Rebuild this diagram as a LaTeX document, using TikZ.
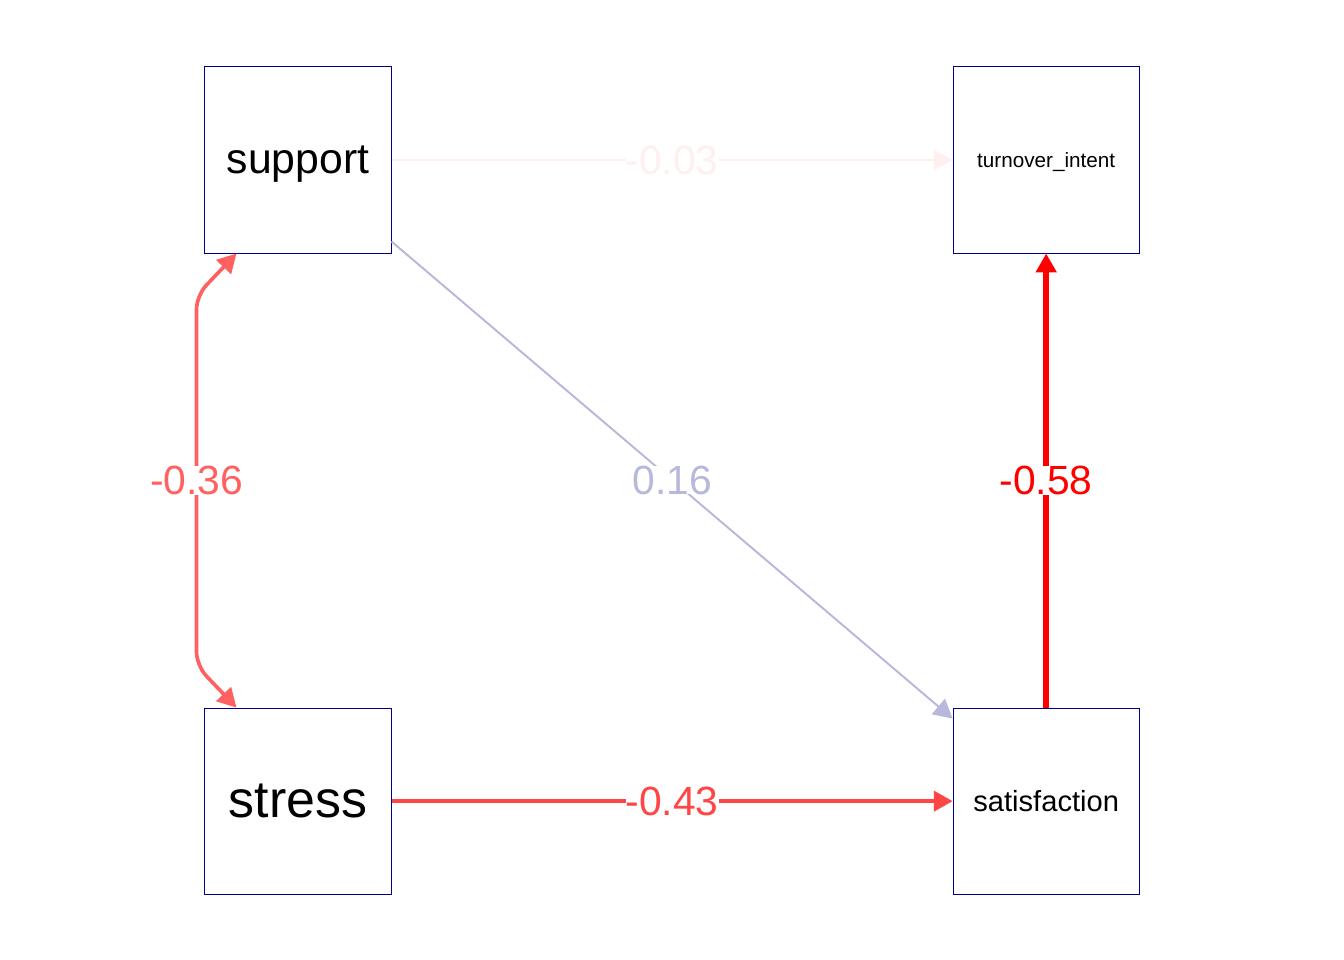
\documentclass[tikz,border=0pt]{standalone}
\usepackage{fontspec}
\setmainfont{Liberation Sans}
\usepackage{xcolor}
\usetikzlibrary{arrows.meta, positioning, calc}

\definecolor{boxline}{RGB}{0,0,139}
\definecolor{pathA}{RGB}{255,240,240}
\definecolor{pathB}{RGB}{184,184,221}
\definecolor{pathC}{RGB}{255,69,69}
\definecolor{pathD}{RGB}{255,96,96}
\definecolor{pathE}{RGB}{255,0,0}

\begin{document}
\begin{tikzpicture}[
    x=0.025cm, y=-0.025cm,
    var/.style={rectangle, draw=boxline, line width=0.7pt, minimum width=4.65cm, minimum height=4.65cm, inner sep=0pt, text depth=0pt, text centered},
    arrow/.style={-{Triangle[length=0.47cm, width=0.5cm]}},
    both/.style={{Triangle[length=0.47cm, width=0.5cm]}-{Triangle[length=0.47cm, width=0.5cm]}},
    coef/.style={fill=white, inner sep=0pt, text height=0.72cm, text depth=0pt, font=\fontsize{29}{29}\selectfont}
]
    \useasboundingbox (0,0) rectangle (1344,960);

    % Variables
    \node[var, font=\fontsize{30.4}{31}\selectfont] (support) at (298,160) {support};
    \node[var, right=14.025cm of support, font=\fontsize{14.7}{15}\selectfont] (turnover) {turnover\_intent};
    \node[var, below=11.35cm of support, font=\fontsize{36.9}{37}\selectfont] (stress) {stress};
    \node[var, right=14.025cm of stress, font=\fontsize{20.7}{21}\selectfont] (satisfaction) {satisfaction};

    % Paths
    \draw[arrow, draw=pathA, line width=1.2pt] (support) -- node[coef, text=pathA] (c03) {-0.03} (turnover);
    \draw[arrow, draw=pathB, line width=1.4pt] ($(support.south east)+(0,-12)$) -- node[coef, text=pathB] (c16) {0.16} ($(satisfaction.north west)+(0,11)$);
    \draw[arrow, draw=pathC, line width=2.8pt] (stress) -- node[coef, text=pathC] (c43) {-0.43} (satisfaction);
    \draw[arrow, draw=pathE, line width=4.2pt] (satisfaction) -- node[coef, text=pathE] (c58) {-0.58} (turnover);

    % Covariance
    \coordinate (top) at ($(support.south west)+(32,0)$);
    \coordinate (bot) at ($(stress.north west)+(32,0)$);
    \draw[both, draw=pathD, line width=2.6pt, rounded corners=0.35cm] (top) -- ($(top)+(-40,42)$) -- node[coef, text=pathD] (c36) {-0.36} ($(bot)+(-40,-42)$) -- (bot);

\end{tikzpicture}
\end{document}
